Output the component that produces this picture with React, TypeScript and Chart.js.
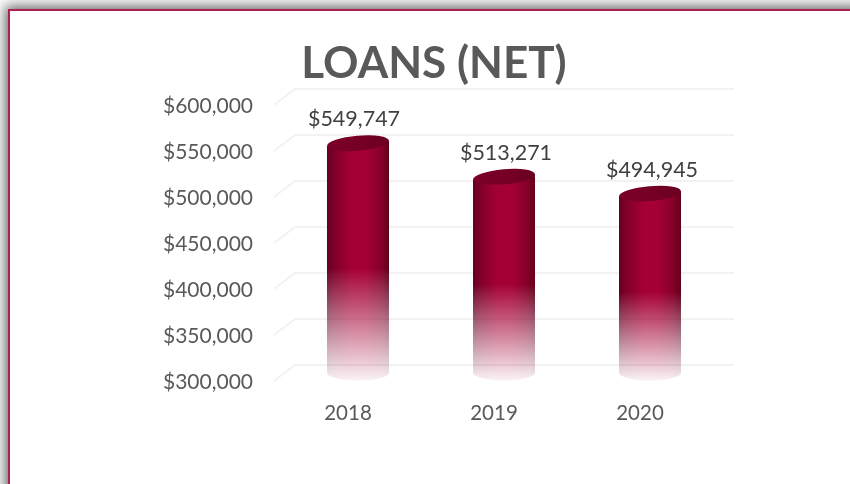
import React, { useEffect, useRef } from "react";
import { Chart, registerables } from "chart.js";

Chart.register(...registerables);

const categories = ["2018", "2019", "2020"];
const loans = [549747, 513271, 494945];
const titleText = "LOANS (NET)";
const yMin = 300000;
const yMax = 600000;
const yStep = 50000;

const FONT = "Lato, 'Open Sans', sans-serif";
const DEPTH = 8;
const RX = 31;
const RY = 7.5;
const TILT = (-5 * Math.PI) / 180;
const LABEL_NUDGE = [-4, 2, 2];

const money = (v: number) => "$" + Number(v).toLocaleString("en-US");

function barPattern(c: any) {
  const chart = c.chart;
  const i = c.dataIndex;
  if (i === undefined || !chart.scales.x || !chart.scales.y) return "#a50034";
  const cx = chart.scales.x.getPixelForValue(i);
  const top = chart.scales.y.getPixelForValue(loans[i]);
  const base = chart.scales.y.getPixelForValue(yMin);
  if (!Number.isFinite(cx) || !Number.isFinite(top) || !Number.isFinite(base)) return "#a50034";
  const end = base + RY;
  const off = document.createElement("canvas");
  off.width = chart.width;
  off.height = chart.height;
  const o = off.getContext("2d") as CanvasRenderingContext2D;
  const h = o.createLinearGradient(cx - RX, 0, cx + RX, 0);
  h.addColorStop(0, "#64001f");
  h.addColorStop(0.12, "#80002a");
  h.addColorStop(0.4, "#a50034");
  h.addColorStop(0.62, "#a50034");
  h.addColorStop(0.88, "#850029");
  h.addColorStop(1, "#5e001c");
  o.fillStyle = h;
  o.fillRect(cx - RX, top - RY, RX * 2, end - top + RY * 2);
  o.globalCompositeOperation = "destination-in";
  const v = o.createLinearGradient(0, top, 0, end);
  const startFade = 0.53;
  v.addColorStop(0, "rgba(0,0,0,1)");
  v.addColorStop(startFade, "rgba(0,0,0,1)");
  v.addColorStop(startFade + 0.01, "rgba(0,0,0,0.97)");
  v.addColorStop(1, "rgba(0,0,0,0.05)");
  o.fillStyle = v;
  o.beginPath();
  const dx = RX * Math.sin(TILT);
  o.moveTo(cx - RX, top - dx);
  o.lineTo(cx + RX, top + dx);
  o.lineTo(cx + RX, end + 2);
  o.lineTo(cx - RX, end + 2);
  o.closePath();
  o.fill();
  return o.createPattern(off, "no-repeat") as CanvasPattern;
}

const cylinderPlugin = {
  id: "cylinder",
  beforeDatasetsDraw(chart: any) {
    const { ctx, chartArea, scales } = chart;
    ctx.save();
    ctx.strokeStyle = "#f2f2f2";
    ctx.lineWidth = 2;
    scales.y.ticks.forEach((t: any) => {
      const y = scales.y.getPixelForValue(t.value);
      ctx.beginPath();
      ctx.moveTo(chartArea.left - 11, y);
      ctx.lineTo(chartArea.left + 10, y - DEPTH * 2);
      ctx.lineTo(chartArea.right + 11, y - DEPTH * 2);
      ctx.stroke();
    });
    ctx.restore();
    ctx.save();
    ctx.translate(0, -DEPTH);
  },
  afterDatasetsDraw(chart: any) {
    const { ctx, scales } = chart;
    const meta = chart.getDatasetMeta(0);
    const footY = scales.y.getPixelForValue(yMin);
    meta.data.forEach((el: any) => {
      // curved foot of the cylinder
      ctx.fillStyle = el.options.backgroundColor;
      ctx.beginPath();
      ctx.ellipse(el.x, footY, RX, RY, 0, 0, Math.PI);
      ctx.closePath();
      ctx.fill();
      // shoulder where the tilted cap rises above the bar's square top
      ctx.beginPath();
      ctx.moveTo(el.x, el.y);
      ctx.lineTo(el.x + RX, el.y + RX * Math.sin(TILT));
      ctx.lineTo(el.x + RX, el.y);
      ctx.closePath();
      ctx.fill();
      // top cap
      const g = ctx.createLinearGradient(el.x - RX, 0, el.x + RX, 0);
      g.addColorStop(0, "#7c0027");
      g.addColorStop(0.5, "#760025");
      g.addColorStop(1, "#6a0020");
      ctx.fillStyle = g;
      ctx.beginPath();
      ctx.ellipse(el.x, el.y, RX, RY, TILT, 0, Math.PI * 2);
      ctx.fill();
    });
    ctx.restore();
    ctx.save();
    ctx.fillStyle = "#404040";
    ctx.font = `21.5px ${FONT}`;
    ctx.textAlign = "center";
    ctx.textBaseline = "middle";
    meta.data.forEach((el: any, i: number) => {
      ctx.fillText(money(loans[i]), el.x + LABEL_NUDGE[i], el.y - 32);
    });
    ctx.restore();
  },
};

export default function App() {
  const ref = useRef<HTMLCanvasElement>(null);
  useEffect(() => {
    const chart = new Chart(ref.current as HTMLCanvasElement, {
      type: "bar",
      data: {
        labels: categories,
        datasets: [
          {
            label: "Loans (net)",
            data: loans,
            backgroundColor: barPattern,
            borderWidth: 0,
            barThickness: RX * 2,
          },
        ],
      },
      options: {
        responsive: false,
        animation: false,
        layout: { padding: { left: 145, right: 127, top: 37, bottom: 43 } },
        plugins: {
          legend: { display: false },
          tooltip: { enabled: false },
          title: {
            display: true,
            text: titleText,
            color: "#595959",
            font: { family: FONT, size: 44, weight: "bold" },
            padding: { top: 0, bottom: 15.2 },
          },
        },
        scales: {
          x: {
            grid: { display: false },
            border: { display: false },
            ticks: {
              color: "#595959",
              font: { family: FONT, size: 20.5 },
              padding: 12,
              labelOffset: -10,
            },
            afterFit: (s: any) => {
              s.height = 60;
            },
          },
          y: {
            min: yMin,
            max: yMax,
            beginAtZero: false,
            grid: { display: false, drawTicks: false },
            border: { display: false },
            ticks: {
              stepSize: yStep,
              color: "#595959",
              font: { family: FONT, size: 21 },
              padding: 32,
              labelOffset: 1.5,
              callback: (v: any) => money(v),
            },
            afterFit: (s: any) => {
              s.width = 140;
            },
          },
        },
      },
      plugins: [cylinderPlugin],
    } as any);
    return () => chart.destroy();
  }, []);
  return (
    <div style={{ position: "fixed", left: 0, top: 0, width: 850, height: 484, overflow: "hidden", background: "#fff" }}>
      <div
        style={{
          position: "absolute",
          left: 8,
          top: 9,
          width: 1000,
          height: 700,
          boxSizing: "border-box",
          border: "2px solid #ab2154",
          boxShadow: "0 0 12px 3px rgba(0,0,0,0.6)",
          background: "#fff",
        }}
      />
      <canvas ref={ref} width={850} height={484} style={{ position: "absolute", left: 0, top: 0 }} />
    </div>
  );
}
